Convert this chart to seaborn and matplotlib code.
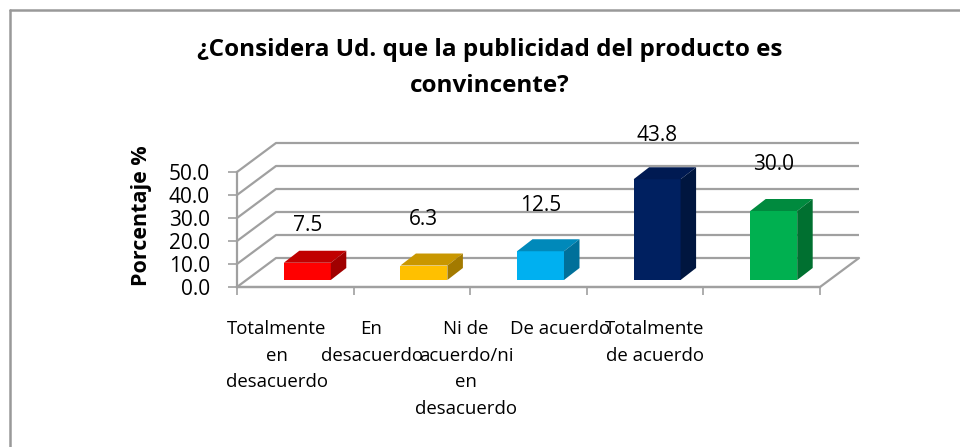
import numpy as np
import pandas as pd
import matplotlib
matplotlib.use("Agg")
import matplotlib.pyplot as plt
import matplotlib.transforms as mtransforms
from matplotlib.patches import Polygon
from matplotlib.lines import Line2D
import seaborn as sns

# ---- data ----
categories = ["Totalmente\nen\ndesacuerdo", "En\ndesacuerdo",
              "Ni de\nacuerdo/ni\nen\ndesacuerdo", "De acuerdo",
              "Totalmente\nde acuerdo"]
values = [7.5, 6.3, 12.5, 43.8, 30.0]
front_colors = ["#FF0000", "#FFC000", "#00B0F0", "#002060", "#00B050"]
top_colors = ["#C00000", "#C99700", "#0089BA", "#001A52", "#008A3E"]
side_colors = ["#A00000", "#A37A00", "#00709A", "#00163F", "#007030"]
y_ticks = [0, 10, 20, 30, 40, 50]
y_tick_labels = ["0.0", "10.0", "20.0", "30.0", "40.0", "50.0"]
title = "¿Considera Ud. que la publicidad del producto es\nconvincente?"
y_label = "Porcentaje %"

sns.set_theme(style="white")
plt.rcParams["font.family"] = ["Open Sans", "DejaVu Sans"]
plt.rcParams["text.color"] = "black"

W, H = 960, 447
DPI = 100
fig = plt.figure(figsize=(W / DPI, H / DPI), dpi=DPI)
fig.patch.set_facecolor("white")

# axes = front plane of the 3D box
ax = fig.add_axes([237 / W, 1 - 287 / H, (820 - 237) / W, (287 - 172) / H])
ax.set_facecolor("none")

df = pd.DataFrame({"cat": categories, "val": values})
sns.barplot(data=df, x="cat", y="val", hue="cat", palette=front_colors,
            width=0.403, legend=False, ax=ax, saturation=1, zorder=3)
n = len(categories)
ax.set_xlim(-0.5, n - 0.5)
ax.set_ylim(0, 50)

# pixel scale of data units
px_x = (820 - 237) / n
px_y = (287 - 172) / 50.0

def off(dx, dy):
    return ax.transData + mtransforms.ScaledTranslation(dx / DPI, dy / DPI, fig.dpi_scale_trans)

grid_c = "#A0A0A0"
# back wall gridlines + left wall diagonals
Dx, Dy = 39 / px_x, 29 / px_y
xmin, xmax = -0.5, n - 0.5
for v in y_ticks:
    ax.plot([xmin, xmin + Dx, xmax + Dx], [v, v + Dy, v + Dy], color=grid_c,
            lw=1.6, clip_on=False, zorder=1, solid_capstyle="butt")
# floor
ax.plot([xmin, xmax, xmax + Dx], [0, 0, Dy], color=grid_c, lw=1.6,
        clip_on=False, zorder=1)

# bars: offset front faces, add top and side faces
bdx, bdy = 15.5 / px_x, 12 / px_y
bars = sorted(ax.patches, key=lambda p: p.get_x())
tr = off(12, 7)
label_lift = [37, 46, 46, 44, 47]
for i, p in enumerate(bars):
    p.set_transform(tr)
    p.set_edgecolor("none")
    p.set_clip_on(False)
    x0, w, h = p.get_x(), p.get_width(), p.get_height()
    x1 = x0 + w
    top = Polygon([(x0, h), (x1, h), (x1 + bdx, h + bdy), (x0 + bdx, h + bdy)],
                  closed=True, facecolor=top_colors[i], edgecolor="none",
                  transform=tr, clip_on=False, zorder=3)
    side = Polygon([(x1, 0), (x1 + bdx, bdy), (x1 + bdx, h + bdy), (x1, h)],
                   closed=True, facecolor=side_colors[i], edgecolor="none",
                   transform=tr, clip_on=False, zorder=3)
    ax.add_patch(top)
    ax.add_patch(side)
    ax.annotate(f"{values[i]:.1f}", xy=(x0 + w / 2, h), xycoords="data",
                xytext=(12, 7 + label_lift[i]), textcoords="offset pixels",
                ha="center", va="center", fontsize=15, color="black")

# spines / ticks
for s in ["top", "right"]:
    ax.spines[s].set_visible(False)
for s in ["left", "bottom"]:
    ax.spines[s].set_color(grid_c)
    ax.spines[s].set_linewidth(1.6)
ax.set_yticks(y_ticks)
ax.set_yticklabels([""] * len(y_ticks))
ax.yaxis.set_tick_params(which="major", direction="out", length=6.5, width=1.2,
                         color=grid_c, left=True)
for v, t in zip(y_ticks, y_tick_labels):
    ax.annotate(t, xy=(xmin, v), xycoords="data", xytext=(-27, 0),
                textcoords="offset pixels", ha="right", va="center_baseline",
                fontsize=15, color="black", annotation_clip=False)
ax.set_xticks(np.arange(-0.5, n, 1.0))
ax.set_xticklabels([""] * (n + 1))
ax.xaxis.set_tick_params(which="major", direction="out", length=6, width=1.2,
                         color=grid_c, bottom=True)
ax.set_xlabel("")
ax.set_ylabel("")

# category labels (Excel 3D projection places them slightly left)
lab_pos = [(277 - 237) / px_x - 0.5 + i * (94.5 / px_x) for i in range(n)]
for i, c in enumerate(categories):
    ax.annotate(c, xy=(lab_pos[i], 0), xycoords="data", xytext=(0, -33),
                textcoords="offset pixels", ha="center", va="top",
                fontsize=13.4, linespacing=1.62, color="black",
                annotation_clip=False)

# y label
fig.text(142 / W, 1 - 216 / H, y_label, rotation=90, ha="center", va="center",
         fontsize=15.5, fontweight="bold", color="black")

# title
fig.text(490 / W, 1 - 68 / H, title, ha="center", va="center", fontsize=17.5,
         fontweight="bold", linespacing=1.72, color="black")

# chart border (left and top edges visible)
fig.add_artist(Line2D([10 / W, 10 / W], [0, 1 - 10 / H], color="#999999", lw=1.8,
                      transform=fig.transFigure))
fig.add_artist(Line2D([10 / W, 1], [1 - 10 / H, 1 - 10 / H], color="#999999", lw=1.8,
                      transform=fig.transFigure))

fig.savefig("out.png", dpi=DPI, facecolor="white")
